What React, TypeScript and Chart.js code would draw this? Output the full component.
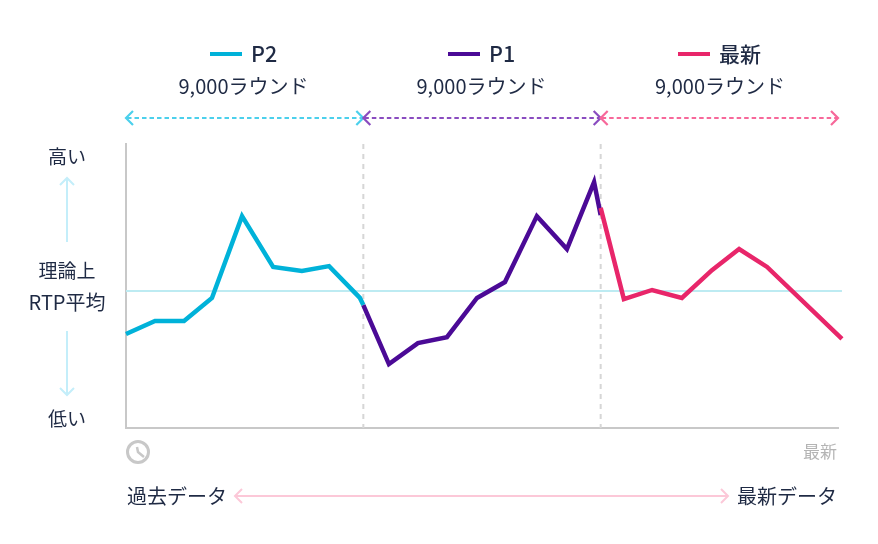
import { useEffect, useRef } from "react"
import { Chart, registerables } from "chart.js"

Chart.register(...registerables)

// x は累積ラウンド数、y は低い(0)〜高い(100)の相対値
const p2Rounds = [0, 1100, 2200, 3260, 4400, 5580, 6670, 7700, 8870, 9000]
const p2Values = [33.1, 37.7, 37.7, 45.8, 74.6, 56.7, 55.3, 57, 45.8, 43.3]
const p1Rounds = [9000, 9970, 11070, 12170, 13310, 14370, 15580, 16720, 17750, 18000]
const p1Values = [43.3, 22.5, 29.9, 32, 45.8, 51.4, 74.6, 63, 86.6, 75]
const latestRounds = [18000, 18880, 19950, 21080, 22220, 23250, 24310, 27150]
const latestValues = [77.5, 45.4, 48.6, 45.8, 55.6, 63, 56.7, 31.4]
const averageRounds = [0, 27150]
const averageValues = [48.2, 48.2]
const periodEnds = [0, 9000, 18000, 27000]

const seriesNames = ["P2", "P1", "最新"]
const roundLabel = "9,000ラウンド"
const seriesColors = ["#00b2d9", "#4b0a96", "#e8266a"]
const arrowColors = ["#4cd0ec", "#8a4cc0", "#f7689a"]

const INK = "#1f2a44"
const AXIS = "#c8c8c8"
const FONT = "'Noto Sans CJK JP', 'Noto Sans', sans-serif"

const toPoints = (xs: number[], ys: number[]) => xs.map((x, i) => ({ x, y: ys[i] }))

function line(ctx: CanvasRenderingContext2D, x1: number, y1: number, x2: number, y2: number) {
	ctx.beginPath()
	ctx.moveTo(x1, y1)
	ctx.lineTo(x2, y2)
	ctx.stroke()
}

function chevron(ctx: CanvasRenderingContext2D, x: number, y: number, dx: number, dy: number) {
	// 矢じりの先端が (x, y)、(dx, dy) が向き
	const s = 7
	ctx.setLineDash([])
	ctx.beginPath()
	ctx.moveTo(x - dx * s + dy * s, y - dy * s + dx * s)
	ctx.lineTo(x, y)
	ctx.lineTo(x - dx * s - dy * s, y - dy * s - dx * s)
	ctx.stroke()
}

function text(
	ctx: CanvasRenderingContext2D,
	value: string,
	x: number,
	y: number,
	size: number,
	align: CanvasTextAlign = "center",
	color = INK,
	weight = 400
) {
	ctx.font = `${weight} ${size}px ${FONT}`
	ctx.fillStyle = color
	ctx.textAlign = align
	ctx.textBaseline = "middle"
	ctx.fillText(value, x, y)
}

const annotations = {
	id: "annotations",
	beforeDatasetsDraw(chart: Chart) {
		const ctx = chart.ctx
		const { left, right, top, bottom } = chart.chartArea
		const xs = chart.scales.x
		ctx.save()
		ctx.strokeStyle = "#d6d6d6"
		ctx.lineWidth = 2
		ctx.setLineDash([5, 5])
		for (const end of periodEnds.slice(1, 3)) {
			const x = xs.getPixelForValue(end)
			line(ctx, x, top, x, bottom)
		}
		ctx.restore()

		ctx.save()
		seriesNames.forEach((name, i) => {
			const x1 = xs.getPixelForValue(periodEnds[i])
			const x2 = xs.getPixelForValue(periodEnds[i + 1])
			const legendX = [210, 448, 678][i]

			ctx.strokeStyle = seriesColors[i]
			ctx.lineWidth = 4
			ctx.setLineDash([])
			line(ctx, legendX, 54, legendX + 32, 54)
			text(ctx, name, legendX + 41, 54, i === 2 ? 21 : 21.5, "left", INK, 500)
			text(ctx, roundLabel, [243.5, 481.5, 720][i], 86, 20)

			ctx.strokeStyle = arrowColors[i]
			ctx.lineWidth = 2.2
			ctx.setLineDash([4.5, 3])
			line(ctx, x1 + 1, 118, x2 - 1, 118)
			chevron(ctx, x1, 118, -1, 0)
			chevron(ctx, x2, 118, 1, 0)
		})

		// 左側のラベル
		const cx = left - 59
		text(ctx, "高い", cx, 157, 19)
		text(ctx, "理論上", cx, 271, 19)
		text(ctx, "RTP平均", cx, 302, 20)
		text(ctx, "低い", cx, 419, 19)
		ctx.strokeStyle = "#c4eefa"
		ctx.lineWidth = 2
		ctx.setLineDash([])
		line(ctx, cx, 178, cx, 242)
		chevron(ctx, cx, 178, 0, -1)
		line(ctx, cx, 331, cx, 395)
		chevron(ctx, cx, 395, 0, 1)

		// 下側の時計と矢印
		ctx.strokeStyle = AXIS
		ctx.lineWidth = 3
		ctx.beginPath()
		ctx.arc(left + 12, bottom + 24, 10.5, 0, Math.PI * 2)
		ctx.stroke()
		ctx.lineWidth = 2.5
		ctx.beginPath()
		ctx.moveTo(left + 11, bottom + 19)
		ctx.lineTo(left + 12, bottom + 24)
		ctx.lineTo(left + 18, bottom + 29)
		ctx.stroke()
		text(ctx, "最新", right - 1, bottom + 24, 17, "right", "#b4b4b4")
		text(ctx, "過去データ", left + 1, bottom + 68, 20, "left")
		text(ctx, "最新データ", right - 1, bottom + 68, 20, "right")
		ctx.strokeStyle = "#fcc8d8"
		ctx.lineWidth = 2
		line(ctx, 236, bottom + 68, 728, bottom + 68)
		chevron(ctx, 235, bottom + 68, -1, 0)
		chevron(ctx, 728, bottom + 68, 1, 0)
		ctx.restore()
	}
}

export default function App() {
	const canvasRef = useRef<HTMLCanvasElement>(null)

	useEffect(() => {
		const ctx = canvasRef.current?.getContext("2d") as CanvasRenderingContext2D
		const makeLine = (data: { x: number; y: number }[], color: string, width: number) => ({
			data,
			borderColor: color,
			borderWidth: width,
			pointRadius: 0,
			tension: 0,
			borderJoinStyle: "miter" as const,
			borderCapStyle: "butt" as const,
			clip: false
		})
		const chart = new Chart(ctx, {
			type: "line",
			data: {
				datasets: [
					makeLine(toPoints(latestRounds, latestValues), seriesColors[2], 4.5),
					makeLine(toPoints(p1Rounds, p1Values), seriesColors[1], 4.5),
					makeLine(toPoints(p2Rounds, p2Values), seriesColors[0], 4.5),
					makeLine(toPoints(averageRounds, averageValues), "#bdebf2", 2)
				]
			},
			options: {
				animation: false,
				responsive: false,
				layout: { padding: { left: 126, right: 40, top: 144, bottom: 116 } },
				plugins: { legend: { display: false }, tooltip: { enabled: false } },
				scales: {
					x: {
						type: "linear",
						min: 0,
						max: 27000,
						ticks: { display: false },
						grid: { display: false, drawTicks: false },
						border: { color: AXIS, width: 2 }
					},
					y: {
						min: 0,
						max: 100,
						ticks: { display: false },
						grid: { display: false, drawTicks: false },
						border: { color: AXIS, width: 2 }
					}
				}
			},
			plugins: [annotations]
		})

		return () => {
			chart.destroy()
		}
	}, [])

	return (
		<div style={{ position: "absolute", left: 0, top: 0, width: 878, height: 544, background: "#fff" }}>
			<canvas ref={canvasRef} width={878} height={544} style={{ display: "block" }} />
		</div>
	)
}
